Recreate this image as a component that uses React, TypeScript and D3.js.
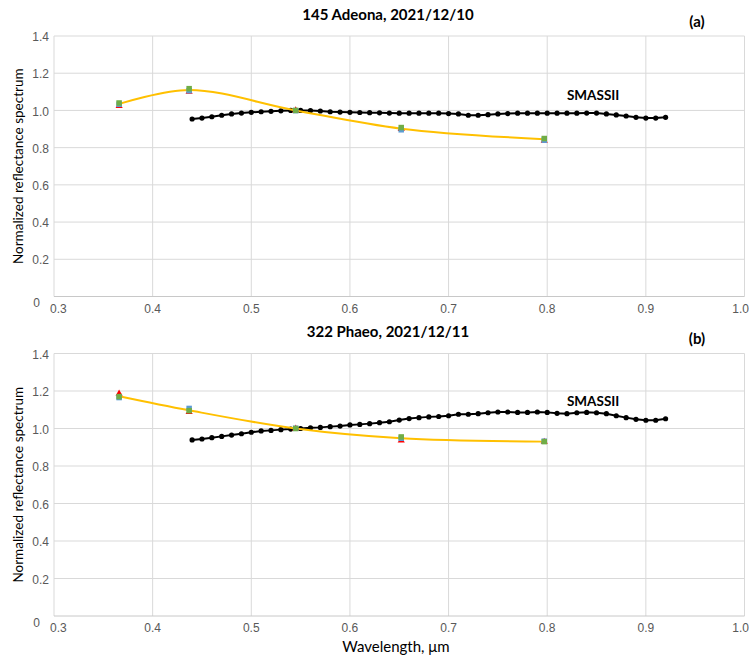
import React from "react";
import * as d3 from "d3";

// ---- Data ----
const filterWl = [0.366, 0.437, 0.545, 0.652, 0.797];

const adeonaCurve = [1.035, 1.11, 1.0, 0.902, 0.845];
const adeonaGreen = [1.04, 1.117, 1.0, 0.908, 0.849];
const adeonaBlue = [1.033, 1.106, 0.999, 0.896, 0.84];
const adeonaRed = [1.024, 1.101, 1.0, 0.9, 0.838];

const phaeoCurve = [1.172, 1.097, 1.0, 0.948, 0.93];
const phaeoGreen = [1.17, 1.095, 1.0, 0.955, 0.93];
const phaeoBlue = [1.165, 1.107, 1.001, 0.948, 0.932];
const phaeoRed = [1.186, 1.088, 0.999, 0.936, 0.929];

const smassWl = [
  0.44, 0.45, 0.46, 0.47, 0.48, 0.49, 0.5, 0.51, 0.52, 0.53, 0.54, 0.55, 0.56, 0.57, 0.58, 0.59,
  0.6, 0.61, 0.62, 0.63, 0.64, 0.65, 0.66, 0.67, 0.68, 0.69, 0.7, 0.71, 0.72, 0.73, 0.74, 0.75,
  0.76, 0.77, 0.78, 0.79, 0.8, 0.81, 0.82, 0.83, 0.84, 0.85, 0.86, 0.87, 0.88, 0.89, 0.9, 0.91, 0.92,
];

const adeonaSmass = [
  0.954, 0.959, 0.966, 0.974, 0.981, 0.986, 0.99, 0.993, 0.995, 0.998, 1.0, 1.0, 0.999, 0.997, 0.993, 0.991,
  0.99, 0.989, 0.988, 0.987, 0.986, 0.985, 0.985, 0.985, 0.985, 0.985, 0.983, 0.981, 0.974, 0.974, 0.977, 0.981,
  0.983, 0.985, 0.985, 0.985, 0.985, 0.985, 0.985, 0.985, 0.986, 0.986, 0.981, 0.976, 0.97, 0.963, 0.959, 0.959, 0.963,
];

const phaeoSmass = [
  0.939, 0.944, 0.951, 0.958, 0.965, 0.972, 0.98, 0.987, 0.99, 0.994, 0.997, 1.0, 1.004, 1.006, 1.01, 1.013,
  1.019, 1.022, 1.026, 1.031, 1.036, 1.045, 1.053, 1.058, 1.062, 1.064, 1.068, 1.076, 1.076, 1.079, 1.084, 1.088,
  1.088, 1.086, 1.086, 1.088, 1.086, 1.081, 1.079, 1.084, 1.086, 1.084, 1.079, 1.068, 1.058, 1.049, 1.044, 1.044, 1.052,
];

const xTicks = [0.3, 0.4, 0.5, 0.6, 0.7, 0.8, 0.9, 1.0];
const yTicks = [0.2, 0.4, 0.6, 0.8, 1.0, 1.2, 1.4];

// label anchor (wavelength, reflectance) of the "SMASSII" annotation
const adeonaLabelAt = [0.82, 1.083];
const phaeoLabelAt = [0.82, 1.147];

const panels = [
  {
    title: "145 Adeona, 2021/12/10",
    tag: "(a)",
    curve: adeonaCurve,
    green: adeonaGreen,
    blue: adeonaBlue,
    red: adeonaRed,
    smass: adeonaSmass,
    labelAt: adeonaLabelAt,
    top: 36,
    bottom: 296.5,
  },
  {
    title: "322 Phaeo, 2021/12/11",
    tag: "(b)",
    curve: phaeoCurve,
    green: phaeoGreen,
    blue: phaeoBlue,
    red: phaeoRed,
    smass: phaeoSmass,
    labelAt: phaeoLabelAt,
    top: 353.5,
    bottom: 616,
  },
];

const LEFT = 54;
const RIGHT = 744.5;
const GRID = "#d9d9d9";
const TICK = "#595959";
const SANS = "Lato, 'Open Sans', sans-serif";
const ARIAL = "'Liberation Sans', Arial, sans-serif";

function Panel({ p }: { p: (typeof panels)[number] }) {
  const x = d3.scaleLinear().domain([0.3, 1.0]).range([LEFT, RIGHT]);
  const y = d3.scaleLinear().domain([0, 1.4]).range([p.bottom, p.top]);
  const smoothLine = d3
    .line<number>()
    .x((_, i) => x(filterWl[i]))
    .y((d) => y(d))
    .curve(d3.curveCatmullRom.alpha(0.5));
  const smassLine = d3
    .line<number>()
    .x((_, i) => x(smassWl[i]))
    .y((d) => y(d));
  const tri = d3.symbol().type(d3.symbolTriangle).size(22)();
  const sq = 5.5;
  const midY = (p.top + p.bottom) / 2;
  return (
    <g>
      {/* gridlines */}
      {xTicks.map((t) => (
        <line key={"gx" + t} x1={x(t)} x2={x(t)} y1={p.top} y2={p.bottom} stroke={GRID} strokeWidth={1} />
      ))}
      {yTicks.map((t) => (
        <line key={"gy" + t} x1={LEFT} x2={RIGHT} y1={y(t)} y2={y(t)} stroke={GRID} strokeWidth={1} />
      ))}
      <line x1={LEFT} x2={RIGHT} y1={p.bottom} y2={p.bottom} stroke="#c8c8c8" strokeWidth={1} />
      {/* tick labels */}
      {yTicks.map((t) => (
        <text key={"ly" + t} x={49} y={y(t) + 1} dy="0.35em" textAnchor="end" fontFamily={ARIAL} fontSize={12} fill={TICK}>
          {t.toFixed(1)}
        </text>
      ))}
      <text x={40} y={p.bottom + 6.5} dy="0.35em" textAnchor="end" fontFamily={ARIAL} fontSize={12} fill={TICK}>
        0
      </text>
      {xTicks.map((t, i) => (
        <text
          key={"lx" + t}
          x={i === 0 ? 50 : i === xTicks.length - 1 ? 749 : x(t)}
          y={p.bottom + 12}
          dy="0.35em"
          textAnchor={i === 0 ? "start" : i === xTicks.length - 1 ? "end" : "middle"}
          fontFamily={ARIAL}
          fontSize={12}
          fill={TICK}
        >
          {t.toFixed(1)}
        </text>
      ))}
      {/* axis title */}
      <text
        transform={`translate(22.5,${midY}) rotate(-90)`}
        textAnchor="middle"
        fontFamily={SANS}
        fontSize={13.5}
        fill="#000"
      >
        Normalized reflectance spectrum
      </text>
      {/* titles */}
      <text x={388} y={p.top - 16.5} textAnchor="middle" fontFamily={SANS} fontWeight="bold" fontSize={15} fill="#000">
        {p.title}
      </text>
      <text x={697} y={p.top - 9.5} textAnchor="middle" fontFamily={SANS} fontWeight="bold" fontSize={15} fill="#000">
        {p.tag}
      </text>
      {/* SMASSII */}
      <path d={smassLine(p.smass) || ""} fill="none" stroke="#000" strokeWidth={2} />
      {p.smass.map((v, i) => (
        <circle key={"s" + i} cx={x(smassWl[i])} cy={y(v)} r={2.6} fill="#000" />
      ))}
      <text
        x={x(p.labelAt[0])}
        y={y(p.labelAt[1])}
        dy="0.35em"
        textAnchor="start"
        fontFamily={SANS}
        fontWeight="bold"
        fontSize={13.5}
        fill="#000"
      >
        SMASSII
      </text>
      {/* yellow smoothed curve */}
      <path d={smoothLine(p.curve) || ""} fill="none" stroke="#ffc000" strokeWidth={2} />
      {/* markers */}
      {p.red.map((v, i) => (
        <path key={"r" + i} d={tri || ""} transform={`translate(${x(filterWl[i])},${y(v)})`} fill="#ff0000" />
      ))}
      {p.blue.map((v, i) => (
        <rect key={"b" + i} x={x(filterWl[i]) - sq / 2} y={y(v) - sq / 2} width={sq} height={sq} fill="#5b9bd5" />
      ))}
      {p.green.map((v, i) => (
        <rect key={"g" + i} x={x(filterWl[i]) - sq / 2} y={y(v) - sq / 2} width={sq} height={sq} fill="#70ad47" />
      ))}
    </g>
  );
}

export default function App() {
  return (
    <svg
      width={749}
      height={661}
      viewBox="0 0 749 661"
      style={{ position: "absolute", left: 0, top: 0, background: "#fff" }}
    >
      <rect x={0} y={0} width={749} height={661} fill="#fff" />
      {panels.map((p) => (
        <Panel key={p.tag} p={p} />
      ))}
      <text x={396} y={652} textAnchor="middle" fontFamily={SANS} fontSize={15} fill="#000">
        Wavelength, μm
      </text>
    </svg>
  );
}
